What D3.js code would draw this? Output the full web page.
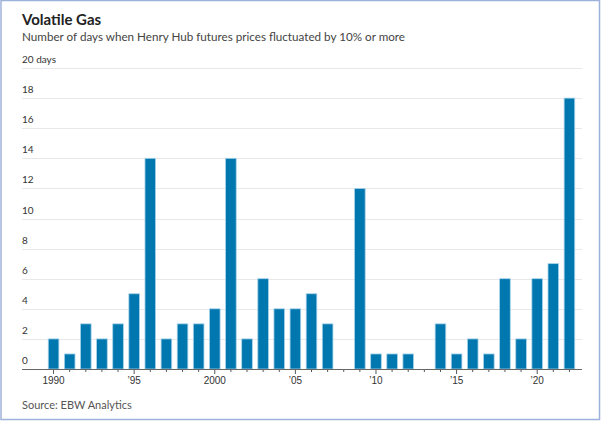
<!DOCTYPE html>
<meta charset="utf-8">
<style>
  body { margin: 0; background: #fff; }
  svg { font-family: Lato, "Noto Sans", sans-serif; }
  .grid line { stroke: #e8e8e8; }
  .axis text { fill: #333; font-size: 10px; }
  .bar { fill: #0077ae; stroke: #a9d3ea; stroke-width: 0.8; }
</style>
<body>
<script src="https://d3js.org/d3.v7.min.js"></script>
<script>
  var years = d3.range(1990, 2023);
  var days = [2, 1, 3, 2, 3, 5, 14, 2, 3, 3, 4, 14, 2, 6, 4, 4, 5, 3, 0, 12,
              1, 1, 1, 0, 3, 1, 2, 1, 6, 2, 6, 7, 18];
  var yTicks = [0, 2, 4, 6, 8, 10, 12, 14, 16, 18, 20];
  var xLabels = {1990: "1990", 1995: "\u201995", 2000: "2000", 2005: "\u201905",
                 2010: "\u201910", 2015: "\u201915", 2020: "\u201920"};

  var W = 601, H = 421;
  var plotLeft = 22, plotRight = 582, plotTop = 68, plotBottom = 369;

  var svg = d3.select("body").append("svg")
      .attr("width", W)
      .attr("height", H);

  // frame
  svg.append("rect")
      .attr("x", 1).attr("y", 0.5)
      .attr("width", W - 2.5).attr("height", H - 2)
      .attr("fill", "none")
      .attr("stroke", "#9db2da")
      .attr("stroke-width", 1.5);

  svg.append("text")
      .attr("x", plotLeft).attr("y", 25)
      .attr("font-size", 15).attr("font-weight", "bold").attr("fill", "#222")
      .text("Volatile Gas");

  svg.append("text")
      .attr("x", plotLeft).attr("y", 41)
      .attr("font-size", 12).attr("fill", "#444")
      .attr("textLength", 383).attr("lengthAdjust", "spacingAndGlyphs")
      .text("Number of days when Henry Hub futures prices fluctuated by 10% or more");

  var x = d3.scaleBand()
      .domain(years)
      .range([45.5, 577.5])
      .paddingInner(0.34)
      .paddingOuter(0.17);

  var y = d3.scaleLinear()
      .domain([0, 20])
      .range([plotBottom, plotTop]);

  // gridlines + y labels
  var grid = svg.append("g").attr("class", "grid axis");
  grid.selectAll("line")
      .data(yTicks.filter(function (d) { return d > 0; }))
    .enter().append("line")
      .attr("x1", plotLeft).attr("x2", plotRight)
      .attr("y1", function (d) { return Math.round(y(d)) + 0.5; })
      .attr("y2", function (d) { return Math.round(y(d)) + 0.5; });
  grid.selectAll("text")
      .data(yTicks)
    .enter().append("text")
      .attr("x", plotLeft)
      .attr("y", function (d) { return y(d) - 5; })
      .text(function (d) { return d === 20 ? "20 days" : d; });

  // bars
  svg.selectAll(".bar")
      .data(days)
    .enter().append("rect")
      .attr("class", "bar")
      .attr("x", function (d, i) { return x(years[i]); })
      .attr("y", function (d) { return y(d); })
      .attr("width", x.bandwidth())
      .attr("height", function (d) { return plotBottom - y(d); });

  // x axis
  var xAxis = d3.axisBottom(x)
      .tickSize(4)
      .tickFormat(function (d) { return xLabels[d] || ""; });

  var gx = svg.append("g")
      .attr("class", "axis")
      .attr("transform", "translate(0," + plotBottom + ")")
      .call(xAxis);
  gx.select(".domain").remove();
  gx.selectAll(".tick line").attr("stroke", "#555")
      .attr("y2", function (d) { return xLabels[d] ? 5 : 3; });
  gx.selectAll(".tick text").attr("y", 8).attr("font-size", 11).attr("fill", "#444");
  gx.append("line")
      .attr("x1", plotLeft).attr("x2", plotRight)
      .attr("y1", 0.5).attr("y2", 0.5)
      .attr("stroke", "#666");

  svg.append("text")
      .attr("x", plotLeft).attr("y", 409)
      .attr("font-size", 11).attr("fill", "#555")
      .text("Source: EBW Analytics");
</script>
</body>
